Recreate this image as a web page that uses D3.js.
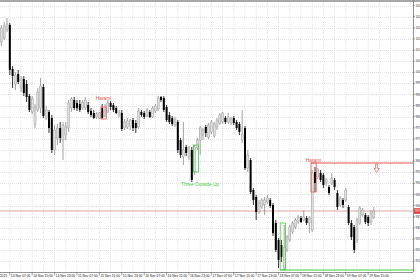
<!DOCTYPE html>
<html>
<head>
<meta charset="utf-8">
<script src="https://cdnjs.cloudflare.com/ajax/libs/d3/7.8.5/d3.min.js"></script>
<style>
html, body { margin: 0; padding: 0; background: #fff; overflow: hidden; }
svg { display: block; font-family: "Liberation Sans", Arial, sans-serif; }
</style>
</head>
<body>
<svg id="chart" width="420" height="280"></svg>
<script>
// hourly bars, first one 14 Nov 2025 04:00
const opens = [
  101360, 101540, 101900, 102125, 100145, 99470, 99920, 99290, 99695, 99470,
  98930, 98210, 97625, 98300, 98390, 99335, 97940, 98210, 97940, 96500,
  97040, 97490, 96950, 97175, 97490, 98390, 98750, 98615, 98570, 98390,
  98390, 98525, 98255, 98165, 97985, 97940, 98390, 98030, 98210, 98615,
  98525, 98390, 98075, 98165, 97490, 97535, 97580, 97850, 97715, 97535,
  98210, 98165, 98030, 98210, 97985, 98255, 98345, 98885, 98840, 98435,
  98075, 97940, 97625, 97760, 96950, 96185, 96635, 96185, 96500, 95510,
  96590, 96950, 97175, 97535, 97085, 97310, 97130, 97535, 97715, 97760,
  97940, 97760, 97715, 97940, 97760, 97670, 96950, 97490, 95690, 96050,
  94700, 94385, 93710, 93935, 94025, 94160, 94250, 94025, 93215, 92450,
  92225, 91190, 92000, 92450, 92810, 93035, 93260, 93440, 93350, 93440,
  93215, 92900, 95510, 95285, 95465, 95375, 95015, 94835, 95015, 95150,
  94565, 94025, 94250, 94250, 93935, 93215, 93035, 92450, 93215, 93575,
  93575, 93485, 93260, 93485
];
const highs = [
  102125, 102260, 102440, 102215, 100280, 100010, 100100, 99830, 99830, 99650,
  99020, 98930, 98570, 99290, 99740, 99470, 98480, 98300, 98075, 97625,
  97670, 97760, 97760, 97760, 98750, 98885, 98885, 98750, 98750, 98750,
  98885, 98660, 98390, 98300, 98210, 98210, 98570, 98570, 98750, 98705,
  98615, 98480, 98300, 98300, 97895, 97940, 97895, 97940, 97850, 98390,
  98300, 98255, 98390, 98300, 98480, 98570, 98930, 98930, 98930, 98525,
  98210, 98030, 97985, 97850, 97040, 97760, 96725, 96680, 96635, 96725,
  97040, 97580, 97490, 97625, 97715, 97850, 97760, 97940, 98165, 98210,
  98030, 98165, 97985, 98030, 97850, 97760, 98300, 97580, 96500, 96140,
  94790, 94475, 94250, 94340, 94385, 94475, 94340, 94115, 93350, 92540,
  92450, 93125, 92675, 93125, 93305, 93440, 93575, 93530, 93800, 93530,
  93530, 95600, 95735, 95690, 95600, 95465, 95240, 94925, 95465, 95240,
  94700, 94430, 94340, 94790, 94025, 93350, 93125, 93440, 93980, 93890,
  93665, 93575, 93800, 93935
];
const lows = [
  101180, 101450, 101810, 99875, 99290, 99200, 99470, 99110, 98930, 98660,
  98210, 98120, 97490, 98210, 98165, 97940, 97850, 97265, 96365, 96275,
  96725, 96815, 96050, 96950, 97310, 98210, 98300, 98255, 98210, 98300,
  98300, 98120, 97985, 97895, 97895, 97895, 97895, 97985, 98165, 98300,
  98210, 98120, 97985, 97355, 97400, 97445, 97400, 97355, 97265, 97445,
  97985, 97895, 97985, 97940, 97940, 98165, 98255, 98660, 98210, 97760,
  97670, 97580, 97535, 96365, 96140, 95825, 96230, 96050, 95060, 95375,
  96500, 96275, 96950, 97085, 96995, 97220, 97040, 97400, 97625, 97670,
  97670, 97670, 97625, 97625, 97400, 97175, 96815, 95600, 95510, 94520,
  94025, 93350, 93620, 93845, 93575, 94070, 93890, 92630, 91910, 91190,
  91460, 91100, 91910, 92360, 92720, 92945, 93170, 93215, 93305, 93125,
  92765, 92810, 94610, 95195, 95060, 94790, 94880, 94475, 94925, 94700,
  93800, 93935, 93890, 94160, 93125, 92450, 91865, 92315, 93125, 93485,
  93170, 93080, 93125, 93395
];
const closes = [
  101990, 102080, 102170, 100100, 99830, 99875, 99560, 99740, 99065, 98885,
  98300, 98795, 98435, 99110, 99380, 98030, 98300, 97490, 96500, 97400,
  97490, 97040, 97625, 97535, 98615, 98795, 98390, 98390, 98300, 98660,
  98750, 98210, 98075, 97940, 98120, 98165, 97940, 98300, 98615, 98435,
  98300, 98165, 98210, 97445, 97760, 97805, 97850, 97490, 97490, 98255,
  98075, 97985, 98300, 97985, 98390, 98480, 98840, 98750, 98300, 97850,
  97760, 97670, 97895, 96500, 96275, 96500, 96365, 96590, 95150, 96635,
  96950, 97490, 97400, 97265, 97625, 97760, 97670, 97850, 98075, 98165,
  97760, 97985, 97895, 97715, 97490, 97310, 97220, 95690, 96275, 94610,
  94250, 93710, 94115, 94250, 94250, 94340, 93980, 92765, 92000, 91550,
  91685, 92135, 92585, 93035, 93215, 93350, 93485, 93260, 93485, 93215,
  93440, 95465, 95015, 95600, 95150, 94925, 95150, 94565, 95240, 94835,
  93935, 94340, 94025, 94700, 93215, 92585, 92000, 93350, 93890, 93800,
  93260, 93215, 93665, 93755
];

const priceTicks = [103000, 102500, 102000, 101500, 101000, 100500, 100000, 99500, 99000, 98500,
  98000, 97500, 97000, 96500, 96000, 95500, 95000, 94500, 94000, 93500, 93000, 92500, 92000, 91500];
const timeLabels = ['13 Nov 2025', '14 Nov 07:00', '14 Nov 15:00', '14 Nov 23:00', '15 Nov 07:00',
  '15 Nov 15:00', '15 Nov 23:00', '16 Nov 07:00', '16 Nov 15:00', '16 Nov 23:00', '17 Nov 07:00',
  '17 Nov 15:00', '17 Nov 23:00', '18 Nov 07:00', '18 Nov 15:00', '18 Nov 23:00', '19 Nov 07:00',
  '19 Nov 15:00'];

// candle patterns: bar index range and price box
const patternNames = ['Harami', 'Three Outside Up', 'Harami', ''];
const patternColors = ['#e8554e', '#3fcf3f', '#e8554e', '#3fcf3f'];
const patternFrom = [36, 69, 111, 100];
const patternTo = [37, 70, 112, 101];
const patternHigh = [98435, 96725, 95915, 93215];
const patternLow = [97895, 95510, 94610, 91100];

const resistance = 95915, support = 91100, bid = 93755;
const arrowBar = 134;

const HOUR = 3600e3;
const firstBar = Date.UTC(2025, 10, 14, 4);
const firstLabel = Date.UTC(2025, 10, 13, 23);
const barTime = i => new Date(firstBar + i * HOUR);

const W = 420, H = 280, plotR = 413, plotB = 272;
const svg = d3.select('#chart');

const x = d3.scaleUtc()
  .domain([new Date(Date.UTC(2025, 10, 14, 3, 30)), new Date(Date.UTC(2025, 10, 14, 3, 30) + 147.5 * HOUR)])
  .range([0, plotR]);
const y = d3.scaleLinear().domain([103250, 91010]).range([0, plotB]);

const bars = opens.map((o, i) => ({ i, t: barTime(i), o, h: highs[i], l: lows[i], c: closes[i] }));

// grid
const gGrid = svg.append('g');
gGrid.selectAll('line.h').data(priceTicks).join('line')
  .attr('x1', 0).attr('x2', plotR)
  .attr('y1', d => Math.round(y(d)) + 0.5).attr('y2', d => Math.round(y(d)) + 0.5)
  .attr('stroke', '#dcdcdc').attr('stroke-dasharray', '1,1').attr('stroke-width', 0.8);
const gridTimes = d3.range(0, 37).map(j => new Date(firstLabel + j * 4 * HOUR));
gGrid.selectAll('line.v').data(gridTimes).join('line')
  .attr('x1', d => x(d)).attr('x2', d => x(d))
  .attr('y1', 2).attr('y2', plotB)
  .attr('stroke', '#dcdcdc').attr('stroke-dasharray', '1,1').attr('stroke-width', 0.8);

// bid line
svg.append('line').attr('x1', 0).attr('x2', plotR)
  .attr('y1', y(bid)).attr('y2', y(bid))
  .attr('stroke', '#d98a8a').attr('stroke-width', 0.8);

// candles
const gC = svg.append('g');
gC.selectAll('line').data(bars).join('line')
  .attr('x1', d => x(d.t)).attr('x2', d => x(d.t))
  .attr('y1', d => y(d.h)).attr('y2', d => y(d.l))
  .attr('stroke', d => d.c >= d.o ? '#8a8a8a' : '#000')
  .attr('stroke-width', 0.8);
gC.selectAll('rect').data(bars).join('rect')
  .attr('x', d => x(d.t) - 1).attr('width', 2)
  .attr('y', d => y(Math.max(d.o, d.c)))
  .attr('height', d => Math.max(0.8, Math.abs(y(d.o) - y(d.c))))
  .attr('fill', d => d.c >= d.o ? '#dedede' : '#000')
  .attr('stroke', d => d.c >= d.o ? '#8f8f8f' : 'none')
  .attr('stroke-width', 0.4);

// pattern boxes and labels
const labelDy = [-7.5, 14, -0.8];
const labelDx = [0, 4, 0];
const pats = patternNames.map((n, k) => ({ n, k, col: patternColors[k], a: patternFrom[k], b: patternTo[k], hi: patternHigh[k], lo: patternLow[k] }));
const gP = svg.append('g');
gP.selectAll('rect').data(pats).join('rect')
  .attr('x', d => x(barTime(d.a)) - 1.2)
  .attr('width', d => x(barTime(d.b)) - x(barTime(d.a)) + 2.4)
  .attr('y', d => y(d.hi)).attr('height', d => y(d.lo) - y(d.hi))
  .attr('fill', 'none').attr('stroke', d => d.col).attr('stroke-width', 0.8);
gP.selectAll('text').data(pats.filter(d => d.n)).join('text')
  .attr('x', d => (x(barTime(d.a)) + x(barTime(d.b))) / 2 + labelDx[d.k])
  .attr('y', d => d.k === 1 ? y(d.lo) + labelDy[d.k] : y(d.hi) + labelDy[d.k])
  .attr('text-anchor', 'middle')
  .attr('font-size', 4.8)
  .attr('fill', d => d.col)
  .text(d => d.n);

// level lines
svg.append('line')
  .attr('x1', x(barTime(patternFrom[2])) - 1.2).attr('x2', plotR)
  .attr('y1', y(resistance)).attr('y2', y(resistance))
  .attr('stroke', '#e8554e').attr('stroke-width', 1);
svg.append('line')
  .attr('x1', x(barTime(patternFrom[3])) - 1.2).attr('x2', plotR)
  .attr('y1', y(support)).attr('y2', y(support))
  .attr('stroke', '#3fcf3f').attr('stroke-width', 1);

// sell arrow under resistance
const ax = x(barTime(arrowBar)), ay = y(resistance) + 1;
svg.append('path')
  .attr('d', `M${ax - 1},${ay} L${ax + 1},${ay} L${ax + 1},${ay + 4.5} L${ax + 2.6},${ay + 4.5} L${ax},${ay + 8.5} L${ax - 2.6},${ay + 4.5} L${ax - 1},${ay + 4.5} Z`)
  .attr('fill', '#fff').attr('stroke', '#e8554e').attr('stroke-width', 0.7);

// frame
svg.append('line').attr('x1', 0).attr('x2', W).attr('y1', 1).attr('y2', 1).attr('stroke', '#a8a8a8').attr('stroke-width', 2);
svg.append('line').attr('x1', plotR + 0.5).attr('x2', plotR + 0.5).attr('y1', 0).attr('y2', plotB).attr('stroke', '#777').attr('stroke-width', 0.8);
svg.append('line').attr('x1', 0).attr('x2', plotR).attr('y1', plotB + 0.5).attr('y2', plotB + 0.5).attr('stroke', '#777').attr('stroke-width', 0.8);

// price axis
const gY = svg.append('g');
gY.selectAll('line').data(priceTicks).join('line')
  .attr('x1', plotR).attr('x2', plotR + 2)
  .attr('y1', d => y(d)).attr('y2', d => y(d))
  .attr('stroke', '#555').attr('stroke-width', 0.5);
gY.selectAll('text').data(priceTicks).join('text')
  .attr('x', plotR + 2.5).attr('y', d => y(d) + 1.1)
  .attr('font-size', 3.1).attr('fill', '#222')
  .text(d => d.toFixed(2));
svg.append('rect').attr('x', plotR + 1).attr('y', y(bid) - 2.8).attr('width', 8).attr('height', 5.6).attr('fill', '#e03a3a');
svg.append('text').attr('x', plotR + 2).attr('y', y(bid) + 1.1)
  .attr('font-size', 3.1).attr('fill', '#fff').text(bid.toFixed(2));

// time axis
const gX = svg.append('g');
const labelTimes = timeLabels.map((s, j) => ({ s, t: new Date(firstLabel + j * 8 * HOUR) }));
gX.selectAll('line').data(labelTimes).join('line')
  .attr('x1', d => x(d.t)).attr('x2', d => x(d.t))
  .attr('y1', plotB).attr('y2', plotB + 3.5)
  .attr('stroke', '#555').attr('stroke-width', 0.5);
gX.selectAll('text').data(labelTimes).join('text')
  .attr('x', d => x(d.t) + 1).attr('y', plotB + 4.5)
  .attr('font-size', 3.3).attr('fill', '#222')
  .text(d => d.s);
</script>
</body>
</html>
